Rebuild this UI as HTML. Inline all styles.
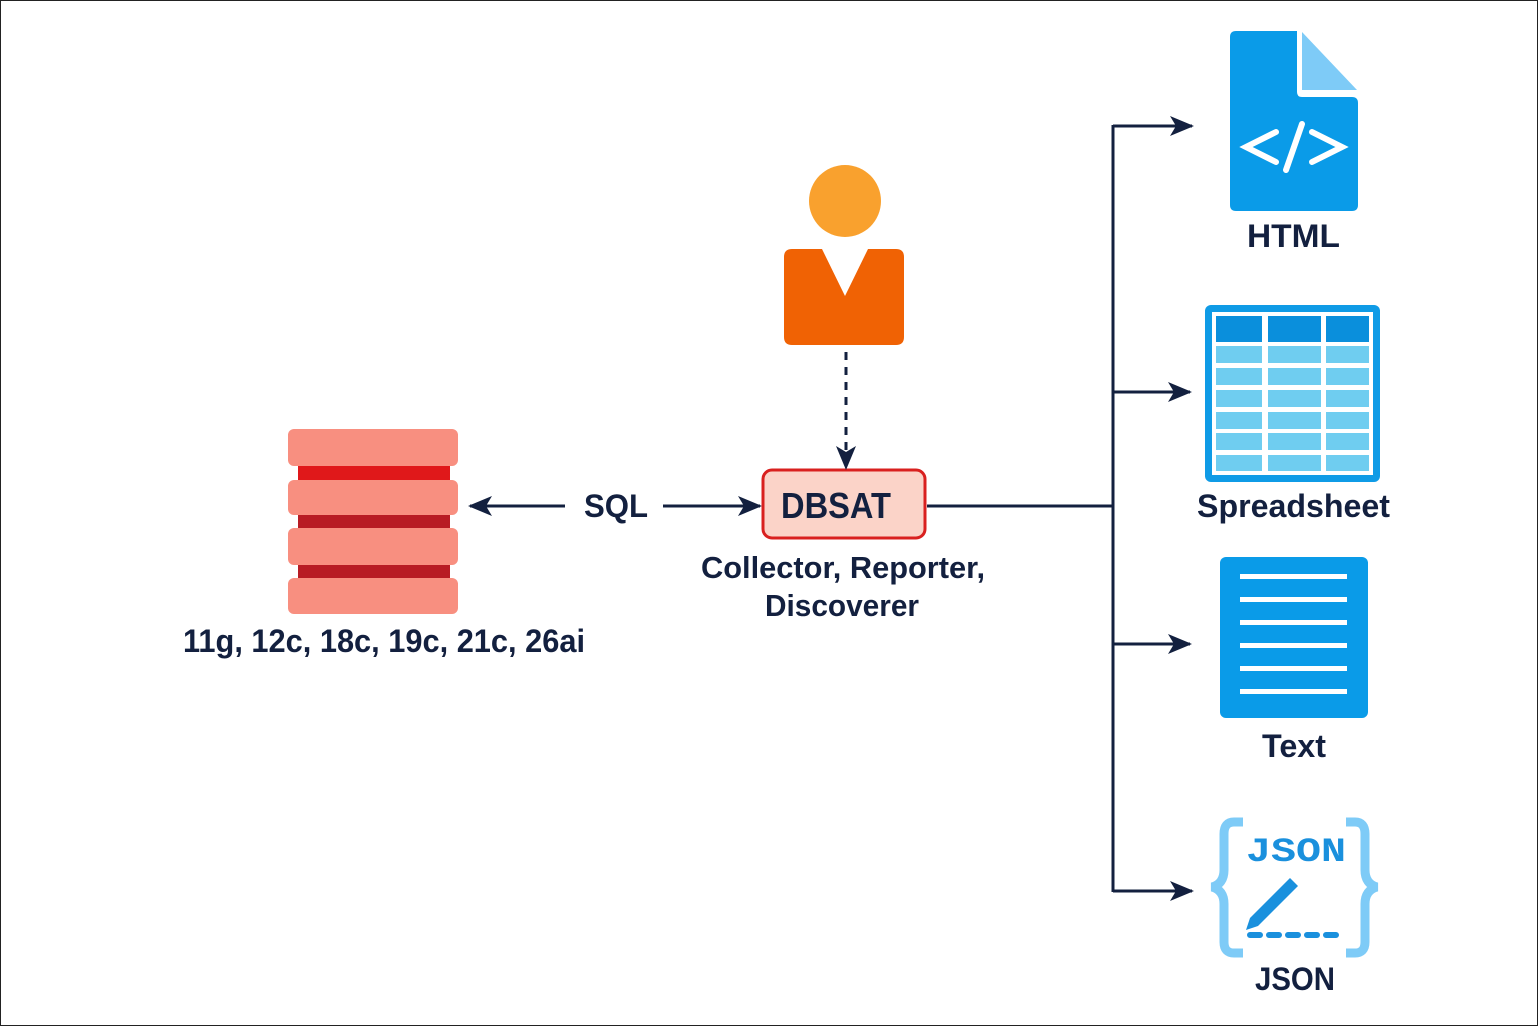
<!DOCTYPE html>
<html><head><meta charset="utf-8"><style>
html,body{margin:0;padding:0;background:#fff}
svg{display:block}
text{font-family:"Liberation Sans",sans-serif;fill:#13203f;font-weight:bold}
</style></head><body>
<svg width="1538" height="1026" viewBox="0 0 1538 1026" xmlns="http://www.w3.org/2000/svg">
<defs>
<marker id="ah2" markerWidth="24" markerHeight="20" refX="22" refY="10" orient="auto" markerUnits="userSpaceOnUse" viewBox="0 0 24 20">
<path d="M0,0 L24,10 L0,20 L6,10 Z" fill="#13203f"/></marker>
</defs>
<rect x="0.5" y="0.5" width="1537" height="1025" fill="#fff" stroke="#222" stroke-width="1"/>
<!-- database -->
<rect x="298" y="464" width="152" height="18" fill="#e0181a"/>
<rect x="298" y="513" width="152" height="17" fill="#b81c24"/>
<rect x="298" y="563" width="152" height="17" fill="#b81c24"/>
<rect x="288" y="429" width="170" height="37" rx="6" fill="#f88f80"/>
<rect x="288" y="480" width="170" height="35" rx="6" fill="#f88f80"/>
<rect x="288" y="528" width="170" height="37" rx="6" fill="#f88f80"/>
<rect x="288" y="578" width="170" height="36" rx="6" fill="#f88f80"/>
<text x="183" y="652" font-size="32" textLength="402" lengthAdjust="spacingAndGlyphs">11g, 12c, 18c, 19c, 21c, 26ai</text>
<!-- SQL arrows -->
<line x1="565" y1="506" x2="470" y2="506" stroke="#13203f" stroke-width="3" marker-end="url(#ah2)"/>
<line x1="663" y1="506" x2="760" y2="506" stroke="#13203f" stroke-width="3" marker-end="url(#ah2)"/>
<text x="584" y="517" font-size="32" textLength="64" lengthAdjust="spacingAndGlyphs">SQL</text>
<!-- DBSAT -->
<rect x="763" y="470" width="162" height="68" rx="9" fill="#fbd3c8" stroke="#d9201f" stroke-width="3"/>
<text x="781" y="518" font-size="36" textLength="110" lengthAdjust="spacingAndGlyphs">DBSAT</text>
<text x="701" y="578" font-size="31" textLength="284" lengthAdjust="spacingAndGlyphs">Collector, Reporter,</text>
<text x="765" y="616" font-size="31" textLength="154" lengthAdjust="spacingAndGlyphs">Discoverer</text>
<!-- person -->
<circle cx="845" cy="201" r="36" fill="#f9a12e"/>
<path d="M792,249 L822,249 L845,296 L868,249 L896,249 Q904,249 904,257 L904,337 Q904,345 896,345 L792,345 Q784,345 784,337 L784,257 Q784,249 792,249 Z" fill="#f06204"/>
<line x1="846" y1="352" x2="846" y2="468" stroke="#13203f" stroke-width="3" stroke-dasharray="8,7" marker-end="url(#ah2)"/>
<!-- tree -->
<line x1="927" y1="506" x2="1114" y2="506" stroke="#13203f" stroke-width="3"/>
<line x1="1113" y1="125" x2="1113" y2="892" stroke="#13203f" stroke-width="3"/>
<line x1="1113" y1="126" x2="1192" y2="126" stroke="#13203f" stroke-width="3" marker-end="url(#ah2)"/>
<line x1="1113" y1="392" x2="1190" y2="392" stroke="#13203f" stroke-width="3" marker-end="url(#ah2)"/>
<line x1="1113" y1="644" x2="1190" y2="644" stroke="#13203f" stroke-width="3" marker-end="url(#ah2)"/>
<line x1="1113" y1="891" x2="1192" y2="891" stroke="#13203f" stroke-width="3" marker-end="url(#ah2)"/>
<!-- HTML icon -->
<path d="M1236,31 L1297,31 L1297,92 Q1297,97 1302,97 L1352,97 Q1358,97 1358,103 L1358,205 Q1358,211 1352,211 L1236,211 Q1230,211 1230,205 L1230,37 Q1230,31 1236,31 Z" fill="#0a9be8"/>
<path d="M1302,32 L1357,90 L1302,90 Z" fill="#7ecbf7"/>
<g stroke="#fff" stroke-width="6" stroke-linecap="round" fill="none">
<path d="M1276,132 L1246,147 L1276,162"/>
<path d="M1302,124 L1286,170"/>
<path d="M1312,132 L1342,147 L1312,162"/>
</g>
<text x="1247" y="247" font-size="32" textLength="93" lengthAdjust="spacingAndGlyphs">HTML</text>
<!-- Spreadsheet -->
<rect x="1205" y="305" width="175" height="177" rx="6" fill="#0f9be6"/>
<rect x="1212" y="312" width="161" height="163" fill="#fff"/>
<g fill="#0a8fdc">
<rect x="1216" y="316" width="46" height="26"/><rect x="1268" y="316" width="53" height="26"/><rect x="1326" y="316" width="43" height="26"/>
</g>
<g fill="#6fcdf0">
<rect x="1216" y="346" width="46" height="17"/><rect x="1268" y="346" width="53" height="17"/><rect x="1326" y="346" width="43" height="17"/>
<rect x="1216" y="368" width="46" height="17"/><rect x="1268" y="368" width="53" height="17"/><rect x="1326" y="368" width="43" height="17"/>
<rect x="1216" y="390" width="46" height="17"/><rect x="1268" y="390" width="53" height="17"/><rect x="1326" y="390" width="43" height="17"/>
<rect x="1216" y="412" width="46" height="17"/><rect x="1268" y="412" width="53" height="17"/><rect x="1326" y="412" width="43" height="17"/>
<rect x="1216" y="433" width="46" height="17"/><rect x="1268" y="433" width="53" height="17"/><rect x="1326" y="433" width="43" height="17"/>
<rect x="1216" y="455" width="46" height="16"/><rect x="1268" y="455" width="53" height="16"/><rect x="1326" y="455" width="43" height="16"/>
</g>
<text x="1197" y="517" font-size="32" textLength="193" lengthAdjust="spacingAndGlyphs">Spreadsheet</text>
<!-- Text icon -->
<rect x="1220" y="557" width="148" height="161" rx="6" fill="#0a9be8"/>
<g fill="#fff">
<rect x="1240" y="574" width="107" height="5"/><rect x="1240" y="597" width="107" height="5"/>
<rect x="1240" y="620" width="107" height="5"/><rect x="1240" y="643" width="107" height="5"/>
<rect x="1240" y="666" width="107" height="5"/><rect x="1240" y="689" width="107" height="5"/>
</g>
<text x="1262" y="757" font-size="32" textLength="64" lengthAdjust="spacingAndGlyphs">Text</text>
<!-- JSON icon -->
<g fill="none" stroke="#7ecbf7" stroke-width="9">
<path d="M1243,822 L1234,822 Q1224,822 1224,834 L1224,870 Q1224,884 1212,887 Q1224,890 1224,904 L1224,942 Q1224,953 1234,953 L1243,953"/>
<path d="M1346,822 L1355,822 Q1365,822 1365,834 L1365,870 Q1365,884 1377,887 Q1365,890 1365,904 L1365,942 Q1365,953 1355,953 L1346,953"/>
</g>
<text x="1246" y="861" font-size="34" textLength="100" lengthAdjust="spacingAndGlyphs" style="font-family:'Liberation Mono',monospace;fill:#1a90dd">JSON</text>
<path d="M1290,878 L1298,886 L1258,926 L1246,930 L1250,918 Z" fill="#1a90dd"/>
<line x1="1250" y1="935" x2="1345" y2="935" stroke="#1a90dd" stroke-width="6" stroke-linecap="round" stroke-dasharray="10,9"/>
<text x="1255" y="990" font-size="32" textLength="80" lengthAdjust="spacingAndGlyphs">JSON</text>
</svg>
</body></html>
